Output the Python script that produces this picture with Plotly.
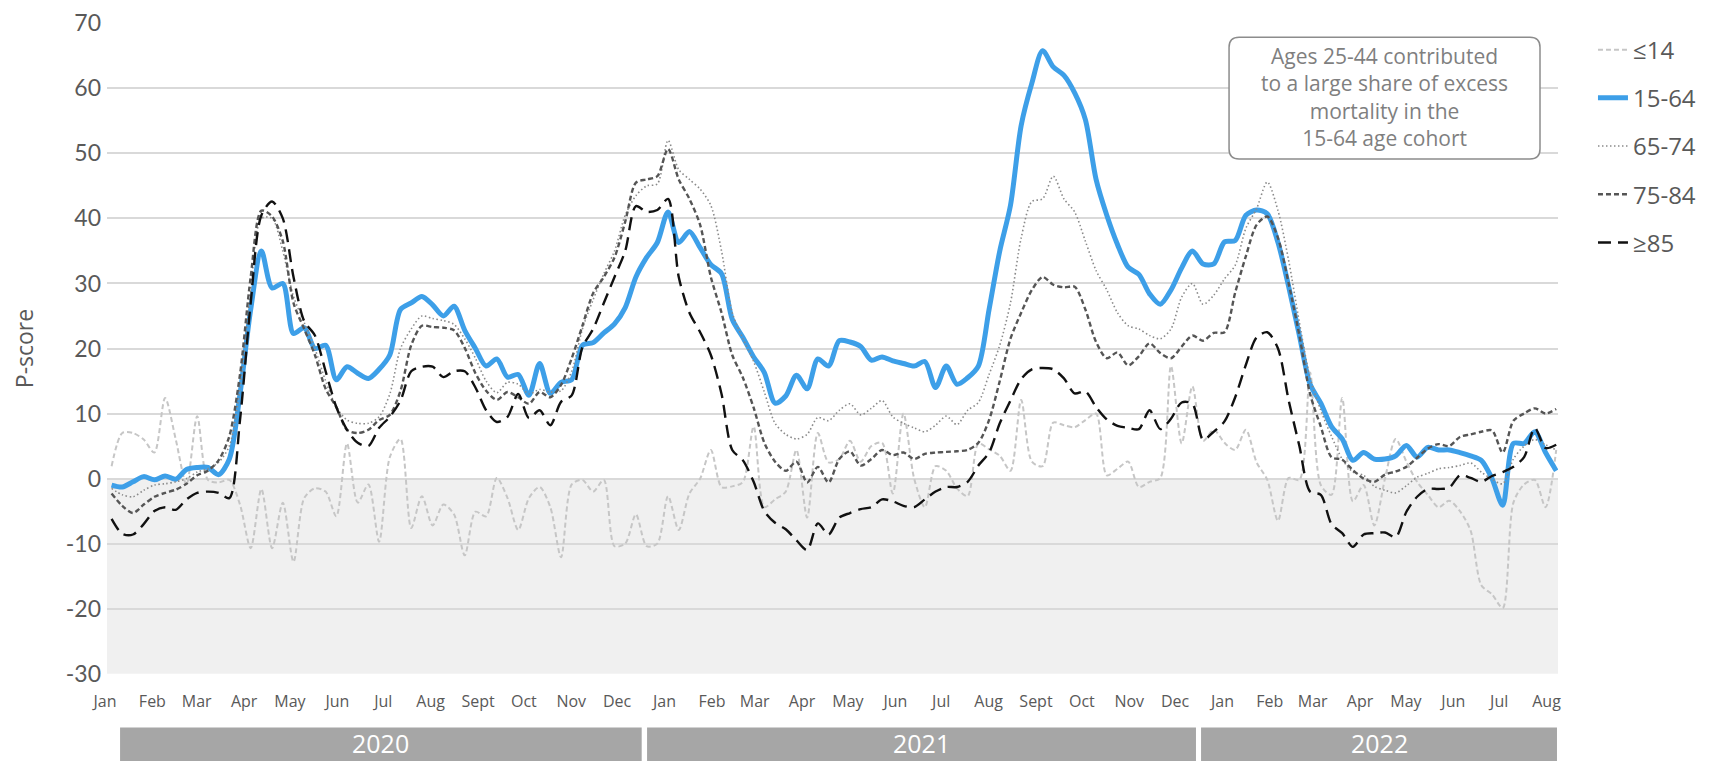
import pandas as pd
import plotly.graph_objects as go

# ---------------- data (weekly P-scores) ----------------
WEEKS = pd.date_range("2020-01-04", periods=136, freq="7D")

AGE_0_14 = [
    1.9, 7, 7, 6, 4, 12.4, 6, -0.9, 9.6, -0.2, -0.6, -0.2, -4, -10.7, -1.6, -10.7, -3.7, -12.8, -3, -1.5,
    -2, -5.8, 5.4, -3.7, -0.9, -9.7, 3.3, 6.1,
    -7.6, -2.7, -7.2, -4, -5.5, -11.8, -5.1, -5.8, 0.1, -3, -7.9, -3, -1.3, -4.4, -12.1, -0.9, -0.2, -2,
    -0.2, -10.4, -10, -5.5, -10.4, -10, -2.7, -7.9, -2.3, 0,
    4.4, -1.3, -1.2, -0.5, 8, -4.4, -3.2, -2, 4.4, -6, 7, 2.5, 3, 5.8, 2.6, 5, 5.5, -2.3, 10, 0, -4.4,
    1.9, 1.2, -1.5, -2.7, 5.4, 4.5, 3.5,
    1.2, 12.1, 2.6, 1.9, 8.6, 8.2, 7.9, 9, 10, 0.5, 1.5, 2.6, -1.3, -0.5, 0.1, 17.3, 5.4, 14.2, 5.8, 7.5,
    5.5, 4.4, 7.5, 2.5, -0.2, -6.5, 0.1, -0.2,
    16.3, -1, -2.5, 12.4, -3.5, -1, -7.2, 0, 6.1, 2.6, -0.5, -2.5, -4.4, -3.4, -5, -8, -16.4, -17.8,
    -19.9, -3.7, -0.9, -0.2, -4.4, 4.4,
]
AGE_15_64 = [
    -1.0, -1.3, -0.5, 0.3, -0.2, 0.4, -0.1, 1.4, 1.7, 1.7, 0.6, 3, 13, 26, 35, 29.3, 30, 22.3, 23.2, 20,
    20.5, 15.2, 17.2, 16.2, 15.4, 16.8, 19, 26,
    27, 28, 26.7, 25, 26.5, 22.8, 20, 17.3, 18.4, 15.6, 16, 12.8, 17.7, 13.1, 14.8, 15.2, 20.5, 20.9,
    22.4, 23.8, 26.3, 31, 34, 36.3, 41, 36.3, 38, 35.5,
    32.9, 31.5, 24.5, 21.7, 18.7, 16.3, 11.6, 12.7, 15.9, 13.8, 18.4, 17.3, 21.2, 21, 20.3, 18.2, 18.7,
    18.1, 17.7, 17.3, 18, 14, 17.3, 14.5, 15.5, 17.3, 26, 35,
    42, 54.3, 60.8, 65.8, 63.3, 62, 59.3, 55.2, 46, 40.5, 36, 32.5, 31.4, 28.4, 26.8, 29, 32.4, 35, 33,
    33, 36.4, 36.6, 40.5, 41.3, 40.7, 36.3, 29.5, 22,
    14.5, 11.6, 8, 6.1, 2.8, 4, 3, 3, 3.5, 5.1, 3.3, 4.8, 4.4, 4.4, 4, 3.5, 2.8, 0, -4.1, 5.4, 5.4, 7.2,
    4, 1.2,
]
AGE_65_74 = [
    -1.5, -2.5, -2.8, -1.8, -1, -0.8, -0.5, 0, 1, 1.5, 2.5, 5, 14, 29, 40, 40, 35, 28, 24, 20, 15, 11,
    9, 8.5, 8.5, 9.5, 13, 20,
    23, 25, 24.6, 24.3, 23.7, 21.5, 18.5, 15, 13.2, 14.8, 14.5, 13, 13.7, 13.3, 13.5, 16.5, 23, 27.5,
    31.5, 35, 40.5, 43.5, 45, 45.3, 52, 47.5, 46, 44.5,
    42, 35, 25.5, 21.5, 18, 13.3, 8.5, 6.8, 6.1, 6.8, 9.4, 8.9, 10.5, 11.5, 9.8, 10.8, 12, 9.5, 8.5,
    7.8, 7.2, 8.2, 9.6, 8.3, 10.5, 11.7, 16, 20.5,
    27, 37, 42.6, 43, 46.5, 43, 41, 36.5, 32, 29, 25.5, 23.5, 23, 22, 21.5, 23, 27.9, 30, 26.8, 28.2,
    30.7, 32.8, 38.5, 41.5, 45.6, 41.2, 33.5, 24,
    15.5, 10.5, 6.5, 3, 1, 0.5, -1.2, -1.8, -2.2, -1.1, 0.2, 0.8, 1.5, 1.7, 2, 2.4, 1, -0.1, -0.8, 3,
    5, 6, 5.2, 4.4,
]
AGE_75_84 = [
    -2.3, -4.2, -5.3, -4, -2.8, -2.2, -1.7, -0.8, 0.5, 1.2, 2.8, 6.5, 16, 31, 41.2, 40.3, 36.5, 27, 23,
    19, 13.8, 11, 7.5, 7, 7.5, 9, 9.8, 13.5,
    20.5, 23.5, 23.3, 23.2, 22.8, 20.1, 16.2, 13.5, 12.1, 13.3, 12.5, 11.5, 13.3, 12.5, 14.4, 18.5,
    23.5, 28.5, 31, 34, 39.5, 45.5, 46, 46.5, 50.7, 46, 43, 39,
    31, 25.5, 19, 15.5, 10.9, 5.5, 2.6, 1.2, 2.6, -0.6, 1.8, -0.6, 3, 4.2, 2, 3, 4.4, 3.6, 4, 3, 3.8,
    4, 4.1, 4.2, 4.4, 5.5, 9, 15,
    21.5, 25.5, 29, 31, 29.8, 29.4, 29.5, 26, 21, 18.5, 19.4, 17.4, 18.8, 20.8, 19.3, 18.5, 20.3, 22,
    21.2, 22.4, 22.5, 28.6, 34.2, 39, 40.3, 37, 30, 22,
    13, 8, 3.3, 2.9, 1.3, 0, -0.5, 0.6, 1.1, 1.8, 3.2, 4.6, 5.3, 5, 6.4, 6.8, 7.2, 7.4, 4, 8.9, 10,
    10.8, 10, 10.7,
]
AGE_85_PLUS = [
    -6.2, -8.5, -8.6, -7.0, -5.0, -4.4, -4.8, -3.2, -2.2, -2, -2.2, -3, 9, 27, 40.5, 42.6, 40, 31,
    24.2, 22, 16.5, 11, 7.5, 5.5, 5, 7.8, 9.5, 12,
    16.5, 17.2, 17.2, 15.6, 16.5, 16.5, 14, 10.5, 8.7, 9.5, 13, 9.3, 10.5, 8.2, 11.8, 12.8, 20.2, 23,
    27, 31, 35, 41.9, 41, 41.3, 43, 31, 25.5, 22.5,
    19, 13, 4.4, 2.8, -0.5, -5, -6.8, -7.8, -9.5, -11, -6.9, -8.6, -6, -5.3, -4.7, -4.4, -3.2, -3.5,
    -4.2, -4.4, -3.2, -2, -1.3, -1.3, -0.5, 2, 4, 8.5,
    12, 15.3, 16.8, 17, 16.8, 15.4, 13.1, 13.4, 11, 9.1, 8.1, 7.8, 7.6, 10.5, 7.6, 9.2, 11.7, 11.5, 6,
    7.2, 8.8, 12.5, 17.5, 21.7, 22.5, 20, 12, 5,
    -2, -2.5, -7, -8.4, -10.5, -8.6, -8.4, -8.3, -9, -5.1, -2.8, -1.6, -1.6, -1.4, 0.5, 0.1, -0.5, 0.4,
    1, 1.8, 3.3, 7.8, 4.7, 5.2,
]

SERIES_NAMES = ["≤14", "15-64", "65-74", "75-84", "≥85"]
SERIES_VALUES = [AGE_0_14, AGE_15_64, AGE_65_74, AGE_75_84, AGE_85_PLUS]

MONTH_TICKS = pd.date_range("2020-01-01", periods=32, freq="MS")
MONTH_LABELS = (["Jan", "Feb", "Mar", "Apr", "May", "Jun", "Jul", "Aug", "Sept", "Oct", "Nov", "Dec"] * 2
                + ["Jan", "Feb", "Mar", "Apr", "May", "Jun", "Jul", "Aug"])
Y_TICKS = [-30, -20, -10, 0, 10, 20, 30, 40, 50, 60, 70]
Y_TICK_LABELS = ["-30", "-20", "-10", "0", "10", "20", "30", "40", "50", "60", "70"]
YEAR_LABELS = ["2020", "2021", "2022"]

NOTE_TEXT = ("Ages 25-44 contributed<br>to a large share of excess<br>"
             "mortality in the<br>15-64 age cohort")

# ---------------- styles ----------------
STYLES = [
    dict(color="#c6c6c6", width=2, dash="5px,3px"),
    dict(color="#3d9fe8", width=5, dash="solid"),
    dict(color="#8a8a8a", width=1.6, dash="1.5px,2.5px"),
    dict(color="#555555", width=2.4, dash="5px,3px"),
    dict(color="#111111", width=2.4, dash="13px,7px"),
]
FONT = "'Open Sans', Lato, sans-serif"
TICK_FONT = "Lato, 'Open Sans', sans-serif"
TEXT_GREY = "#595959"

fig = go.Figure()
for name, vals, st in zip(SERIES_NAMES, SERIES_VALUES, STYLES):
    fig.add_trace(go.Scatter(
        x=WEEKS, y=vals, name=name, mode="lines", legendgroup=name,
        line=dict(color=st["color"], width=st["width"], dash=st["dash"], shape="spline", smoothing=0.8),
    ))

# shaded negative region
fig.add_shape(type="rect", xref="paper", yref="y", x0=0, x1=1, y0=-30, y1=0,
              fillcolor="#f0f0f0", line_width=0, layer="below")

# year bands under the axis (paper coords)
YEAR_BANDS = [(0.0090, 0.3685), (0.3722, 0.7505), (0.7540, 0.9993)]
for label, (a, b) in zip(YEAR_LABELS, YEAR_BANDS):
    fig.add_shape(type="rect", xref="paper", yref="paper", x0=a, x1=b, y0=-0.15, y1=-0.0822,
                  fillcolor="#a6a6a6", line_width=0)
    fig.add_annotation(xref="paper", yref="paper", x=(a + b) / 2, y=-0.1055, text=label,
                       showarrow=False, font=dict(family=FONT, size=25, color="white"),
                       xanchor="center", yanchor="middle")

# rounded note box
x0, x1, y0, y1 = 0.7733, 0.9876, 0.7911, 0.9780
rx, ry = 0.0069, 0.0154
path = (f"M{x0+rx},{y1} L{x1-rx},{y1} Q{x1},{y1} {x1},{y1-ry} L{x1},{y0+ry} Q{x1},{y0} {x1-rx},{y0} "
        f"L{x0+rx},{y0} Q{x0},{y0} {x0},{y0+ry} L{x0},{y1-ry} Q{x0},{y1} {x0+rx},{y1} Z")
fig.add_shape(type="path", xref="paper", yref="paper", path=path,
              fillcolor="white", line=dict(color="#8c8c8c", width=1.5))
fig.add_annotation(xref="paper", yref="paper", x=0.8805, y=0.8865, text=NOTE_TEXT,
                   showarrow=False, align="center", xanchor="center", yanchor="middle",
                   font=dict(family=FONT, size=21, color="#7f7f7f"))

fig.update_layout(
    width=1725, height=753,
    margin=dict(l=99, r=175, t=15, b=87),
    plot_bgcolor="white", paper_bgcolor="white",
    font=dict(family=FONT, color=TEXT_GREY),
    showlegend=True,
    legend=dict(x=1.0241, xanchor="left", y=0.993, yanchor="top",
                font=dict(family=FONT, size=24, color=TEXT_GREY),
                tracegroupgap=14, bgcolor="rgba(0,0,0,0)"),
    xaxis=dict(type="date", range=["2020-01-01", "2022-08-07 04:00"],
               tickmode="array", tickvals=MONTH_TICKS, ticktext=MONTH_LABELS,
               showgrid=False, zeroline=False, showline=False, ticks="", automargin=False,
               tickfont=dict(family=FONT, size=16, color=TEXT_GREY),
               ticklabelstandoff=16, ticklabelshift=-2),
    yaxis=dict(range=[-30.05, 70.05], tickmode="array", tickvals=Y_TICKS, ticktext=Y_TICK_LABELS,
               showgrid=True, gridcolor="#d9d9d9", gridwidth=1.5,
               zeroline=False, showline=False, ticks="", automargin=False,
               ticklabeloverflow="allow",
               tickfont=dict(family=TICK_FONT, size=23, color=TEXT_GREY),
               ticklabelstandoff=5,
               title=dict(text="P-score", font=dict(family=FONT, size=23, color=TEXT_GREY),
                          standoff=32)),
)

fig.write_html("out.html")
